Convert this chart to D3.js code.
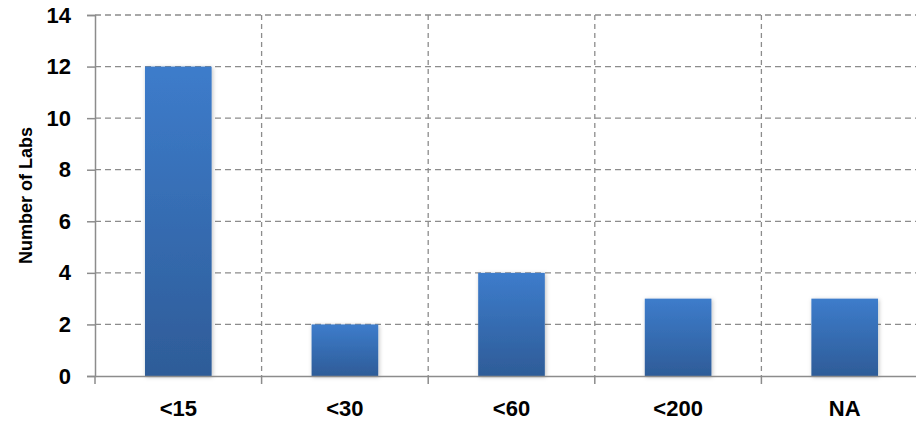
<!DOCTYPE html>
<html>
<head>
<meta charset="utf-8">
<script src="https://cdn.jsdelivr.net/npm/d3@7"></script>
<style>
  body { margin: 0; background: #fff; }
  text { font-family: "Liberation Sans", Arial, sans-serif; font-weight: bold; }
</style>
</head>
<body>
<script>
const WIDTH = 916
const HEIGHT = 423

const categories = ['<15', '<30', '<60', '<200', 'NA']
const labs = [12, 2, 4, 3, 3]
const yTicks = [0, 2, 4, 6, 8, 10, 12, 14]

const svg = d3.select('body')
  .append('svg')
  .attr('width', WIDTH)
  .attr('height', HEIGHT)

const PLOT_LEFT = 95
const PLOT_TOP = 15
const PLOT_BOTTOM = 376

const x = d3.scaleBand()
  .domain(categories)
  .range([PLOT_LEFT, 928])

const y = d3.scaleLinear()
  .domain([0, 14])
  .range([PLOT_BOTTOM, PLOT_TOP])

// dégradé des barres
const defs = svg.append('defs')
const grad = defs.append('linearGradient')
  .attr('id', 'barGrad')
  .attr('x1', 0).attr('y1', 0).attr('x2', 0).attr('y2', 1)
grad.append('stop').attr('offset', '0%').attr('stop-color', '#3d7ccb')
grad.append('stop').attr('offset', '100%').attr('stop-color', '#2e5c98')

const shadow = defs.append('filter')
  .attr('id', 'shadow')
  .attr('x', '-20%').attr('y', '-10%').attr('width', '140%').attr('height', '120%')
shadow.append('feDropShadow')
  .attr('dx', 1).attr('dy', 1).attr('stdDeviation', 2)
  .attr('flood-color', '#000').attr('flood-opacity', 0.25)

// grille horizontale
svg.append('g')
  .selectAll('line')
  .data(yTicks.slice(1))
  .enter()
  .append('line')
  .attr('x1', PLOT_LEFT)
  .attr('x2', WIDTH)
  .attr('y1', d => y(d))
  .attr('y2', d => y(d))
  .attr('stroke', '#8c8c8c')
  .attr('stroke-width', 1.3)
  .attr('stroke-dasharray', '6,4')

// grille verticale
svg.append('g')
  .selectAll('line')
  .data(categories.slice(1))
  .enter()
  .append('line')
  .attr('x1', d => x(d))
  .attr('x2', d => x(d))
  .attr('y1', PLOT_TOP)
  .attr('y2', PLOT_BOTTOM)
  .attr('stroke', '#8c8c8c')
  .attr('stroke-width', 1.3)
  .attr('stroke-dasharray', '5,4')

// les barres
const barW = x.bandwidth() * 0.4
svg.append('g')
  .selectAll('rect')
  .data(labs)
  .enter()
  .append('rect')
  .attr('x', (d, i) => x(categories[i]) + (x.bandwidth() - barW) / 2)
  .attr('y', d => y(d))
  .attr('width', barW)
  .attr('height', d => PLOT_BOTTOM - y(d))
  .attr('fill', 'url(#barGrad)')
  .attr('filter', 'url(#shadow)')

// axe y
const yAxis = svg.append('g')
  .attr('transform', `translate(${PLOT_LEFT},0)`)
  .call(d3.axisLeft(y).tickValues(yTicks).tickSize(8).tickPadding(16))
yAxis.select('.domain').attr('stroke', '#8c8c8c').attr('stroke-width', 1.5)
yAxis.selectAll('.tick line').attr('stroke', '#8c8c8c').attr('stroke-width', 1.5)
yAxis.selectAll('.tick text')
  .attr('font-size', 22)
  .attr('fill', '#000')
  .style('font-family', '"Liberation Sans", Arial, sans-serif')

// axe x
const xAxis = svg.append('g')
  .attr('transform', `translate(0,${PLOT_BOTTOM})`)
  .call(d3.axisBottom(x).tickSize(0).tickPadding(24))
xAxis.select('.domain').attr('stroke', '#8c8c8c').attr('stroke-width', 1.5)
xAxis.selectAll('.tick text')
  .attr('font-size', 22)
  .attr('fill', '#000')
  .style('font-family', '"Liberation Sans", Arial, sans-serif')

// petits traits sous l'axe x
svg.append('g')
  .selectAll('line')
  .data(categories.concat(['end']))
  .enter()
  .append('line')
  .attr('x1', (d, i) => PLOT_LEFT + i * x.step())
  .attr('x2', (d, i) => PLOT_LEFT + i * x.step())
  .attr('y1', PLOT_BOTTOM)
  .attr('y2', PLOT_BOTTOM + 8)
  .attr('stroke', '#8c8c8c')
  .attr('stroke-width', 1.5)

// titre de l'axe y
svg.append('text')
  .attr('transform', `translate(32, ${(PLOT_TOP + PLOT_BOTTOM) / 2}) rotate(-90)`)
  .attr('text-anchor', 'middle')
  .attr('font-size', 18)
  .text('Number of Labs')
</script>
</body>
</html>
